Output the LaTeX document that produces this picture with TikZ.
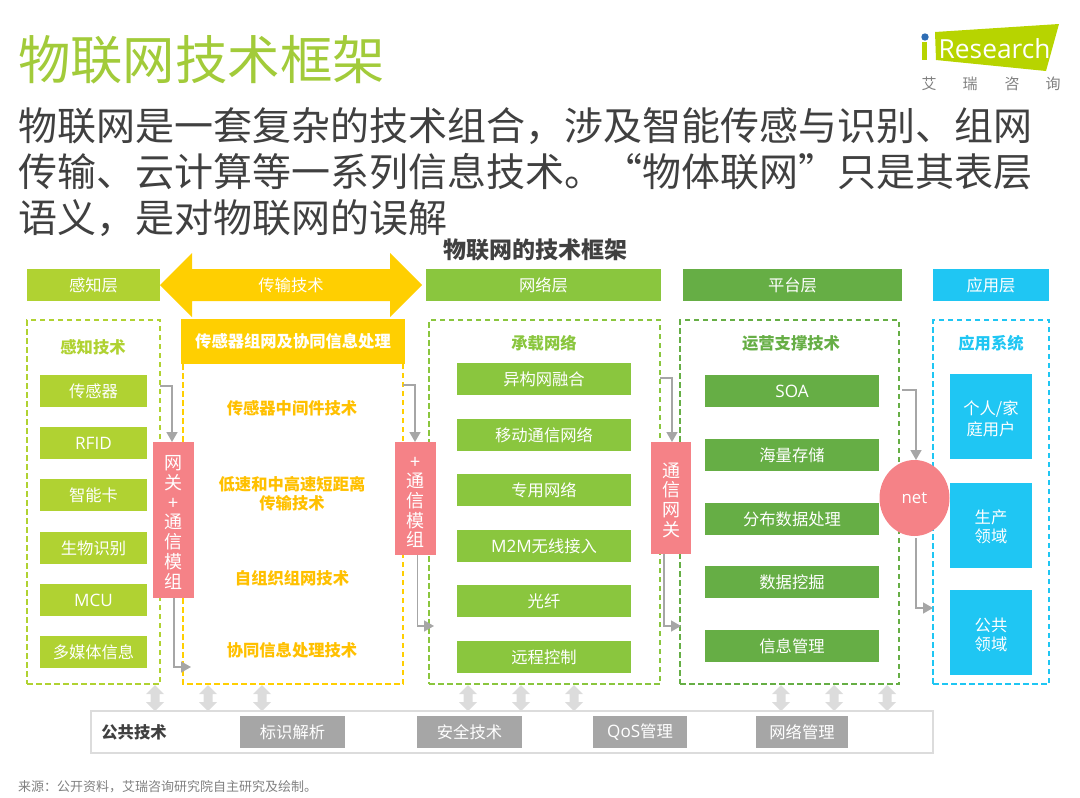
\documentclass[tikz,border=0pt]{standalone}
\usepackage{fontspec}
\setmainfont{Noto Sans CJK SC}
\newfontfamily\lat[Scale=1.05]{Open Sans}
\newfontfamily\latlogo{Open Sans}
\usetikzlibrary{arrows.meta,calc,shapes.geometric}
\definecolor{cA}{HTML}{B0D232}
\definecolor{cB}{HTML}{FFCF01}
\definecolor{cC}{HTML}{8AC63E}
\definecolor{cD}{HTML}{66AE45}
\definecolor{cE}{HTML}{1FC6F3}
\definecolor{cP}{HTML}{F58287}
\definecolor{cG}{HTML}{A6A6A6}
\definecolor{cL}{HTML}{DCDCDC}
\definecolor{cT}{HTML}{404040}
\definecolor{cY}{HTML}{FFC000}
\definecolor{cTitle}{HTML}{A2CB3A}
\definecolor{cLogo}{HTML}{B7D400}
\definecolor{cDot}{HTML}{2E6DB4}
\newcommand{\fs}[1]{\fontsize{#1}{#1}\selectfont}
% \bx{name}{x1}{y1}{x2}{y2}{style}{text}
\newcommand{\bx}[7]{%
  \pgfmathsetmacro{\bw}{#4-#2}\pgfmathsetmacro{\bh}{#5-#3}%
  \pgfmathsetmacro{\bcx}{(#2+#4)/2}\pgfmathsetmacro{\bcy}{(#3+#5)/2}%
  \node[#6,minimum width=\bw pt,minimum height=\bh pt] (#1) at (\bcx,\bcy) {#7};}
% vertical double block arrow
\newcommand{\dbl}[1]{%
  \fill[cL] (#1,685) -- (#1+9,694) -- (#1+4.5,694) -- (#1+4.5,702) -- (#1+9,702) -- (#1,711)
     -- (#1-9,702) -- (#1-4.5,702) -- (#1-4.5,694) -- (#1-9,694) -- cycle;}
\newcommand{\upr}[1]{\rule{0pt}{#1pt}}
\tikzset{
  x=1pt,y=-1pt,
  box/.style={inner sep=0pt,outer sep=0pt,text=white,font=\fs{16.3},align=center},
  sa/.style={box,fill=cA}, sc/.style={box,fill=cC}, sd/.style={box,fill=cD}, se/.style={box,fill=cE},
  sg/.style={box,fill=cG},
  sp/.style={box,fill=cP,font=\fontsize{18}{19.7}\selectfont},
  dbox/.style={inner sep=0pt,outer sep=0pt,draw=#1,line width=1.1pt,dash pattern=on 5.5pt off 3.5pt},
  head/.style={inner sep=0pt,text=#1,font=\bfseries\fs{16.3}},
  mid/.style={inner sep=0pt,text=cY,font=\bfseries\fs{16.3},align=center},
  conn/.style={draw=cG,line width=1.6pt,-{Triangle[width=11pt,length=10pt]}},
}
\begin{document}
\begin{tikzpicture}
\useasboundingbox (0,0) rectangle (1080,798);
% titles
\node[anchor=west,inner sep=0pt,text=cTitle,font=\fs{52.4}] (title) at (18,60) {物联网技术框架};
\node[anchor=west,inner sep=0pt,text=cT,font=\fs{39}] (s1) at (18,126) {物联网是一套复杂的技术组合，涉及智能传感与识别、组网};
\node[anchor=west,inner sep=0pt,text=cT,font=\fs{39}] (s2) at (18,172) {传输、云计算等一系列信息技术。“物体联网”只是其表层};
\node[anchor=west,inner sep=0pt,text=cT,font=\fs{39}] (s3) at (18,218) {语义，是对物联网的误解};
\node[inner sep=0pt,text=cT,font=\bfseries\fs{23}] (sub) at (535,250) {物联网的技术框架};
% logo
\fill[cLogo] (935,32) -- (1059,24) -- (1046,71) -- (936,60) -- cycle;
\fill[cLogo] (922,42) rectangle (927,60);
\fill[cDot] (925,37) circle (3.7);
\node[anchor=base west,inner sep=0pt,text=white,font=\latlogo\fs{26.3}] (logo) at (938.5,58) {Research};
\node[inner sep=0pt,text=gray,font=\fs{15}] (l1) at (929,84) {艾};
\node[inner sep=0pt,text=gray,font=\fs{15}] (l2) at (970,84) {瑞};
\node[inner sep=0pt,text=gray,font=\fs{15}] (l3) at (1012,84) {咨};
\node[inner sep=0pt,text=gray,font=\fs{15}] (l4) at (1053,84) {询};
% layer bars
\bx{h1}{27}{269}{160}{301}{sa}{感知层}
\fill[cB] (160,285) -- (192,253) -- (192,269) -- (390,269) -- (390,253) -- (422,285) -- (390,317) -- (390,301) -- (192,301) -- (192,317) -- cycle;
\node[inner sep=0pt,text=white,font=\fs{16.3}] (h2) at (291,285) {传输技术};
\bx{h3}{426}{269}{661}{301}{sc}{网络层}
\bx{h4}{683}{269}{902}{301}{sd}{平台层}
\bx{h5}{933}{269}{1049}{301}{se}{应用层}
% dashed groups
\bx{g1}{27}{320}{160}{684}{dbox=cA}{}
\draw[cB,line width=1.1pt,dash pattern=on 5.5pt off 3.5pt] (183,364) -- (183,684) -- (403,684) -- (403,364);
\bx{g3}{429}{320}{660}{684}{dbox=cC}{}
\bx{g4}{680}{320}{899}{684}{dbox=cD}{}
\bx{g5}{933}{320}{1049}{684}{dbox=cE}{}
% group 1
\node[head=cA] (t1) at (93,347) {感知技术};
\bx{a1}{40}{375}{147}{407}{sa}{传感器}
\bx{a2}{40}{427}{147}{459}{sa}{\lat RFID}
\bx{a3}{40}{479}{147}{511}{sa}{智能卡}
\bx{a4}{40}{532}{147}{564}{sa}{生物识别}
\bx{a5}{40}{584}{147}{616}{sa}{\lat MCU}
\bx{a6}{40}{636}{147}{668}{sa}{多媒体信息}
% group 2
\bx{b0}{181}{319}{405}{364}{box,fill=cB,font=\bfseries\fs{16.3}}{传感器组网及协同信息处理}
\node[mid] (b1) at (292,408.5) {传感器中间件技术};
\node[mid] (b2) at (292,494) {低速和中高速短距离\\[3pt]传输技术};
\node[mid] (b3) at (292,578) {自组织组网技术};
\node[mid] (b4) at (292,650) {协同信息处理技术};
% group 3
\node[head=cC] (t3) at (544,343) {承载网络};
\bx{c1}{457}{363}{631}{395}{sc}{异构网融合}
\bx{c2}{457}{419}{631}{451}{sc}{移动通信网络}
\bx{c3}{457}{474}{631}{506}{sc}{专用网络}
\bx{c4}{457}{530}{631}{562}{sc}{{\lat M2M}无线接入}
\bx{c5}{457}{585}{631}{617}{sc}{光纤}
\bx{c6}{457}{641}{631}{673}{sc}{远程控制}
% group 4
\node[head=cD] (t4) at (791,343) {运营支撑技术};
\bx{d1}{705}{375}{879}{407}{sd}{\lat SOA}
\bx{d2}{705}{439}{879}{471}{sd}{海量存储}
\bx{d3}{705}{503}{879}{535}{sd}{分布数据处理}
\bx{d4}{705}{566}{879}{598}{sd}{数据挖掘}
\bx{d5}{705}{630}{879}{662}{sd}{信息管理}
% group 5
\node[head=cE] (t5) at (991,343) {应用系统};
\bx{e1}{950}{374}{1032}{459}{se}{\upr{18}个人/家\\[3pt]庭用户}
\bx{e2}{950}{483}{1032}{568}{se}{\upr{16}生产\\[3pt]领域}
\bx{e3}{950}{590}{1032}{675}{se}{\upr{18}公共\\[3pt]领域}
% gateways
\bx{p1}{153}{442}{194}{598}{sp}{\upr{19}网\\关\\+\\通\\信\\模\\组}
\bx{p2}{395}{442}{436}{555}{sp}{\upr{19}+\\通\\信\\模\\组}
\bx{p3}{651}{442}{691}{554}{sp}{\upr{19}通\\信\\网\\关}
\node[ellipse,fill=cP,inner sep=0pt,outer sep=0pt,minimum width=70pt,minimum height=76pt,text=white,font=\lat\fs{16}] (net) at (914.5,498) {net};
% connectors
\coordinate (k1) at (160,386);
\coordinate (k2) at (403,385);
\coordinate (k3) at (660,378);
\coordinate (k4) at (902,390);
\draw[conn] (k1) -| ($(p1.north)+(-1.5,0)$);
\draw[conn] ($(p1.south)+(0.5,0)$) |- ($(g1.south east)+(31,-17)$);
\draw[conn] (k2) -| ($(p2.north)+(-0.5,0)$);
\draw[conn] ($(p2.south)+(2,0)$) |- ($(g3.south west)+(5,-58)$);
\draw[conn] (k3) -| ($(p3.north)+(1,0)$);
\draw[conn] ($(p3.south)+(-7,0)$) |- ($(g4.south west)+(1,-58)$);
\draw[conn] (k4) -| ($(net.north)+(1.5,0)$);
\draw[conn] ($(net.south)+(1.5,2)$) |- ($(g5.west)+(0,106)$);
% public tech
\bx{pub}{91}{711}{933}{753}{draw=cL,line width=1.2pt,inner sep=0pt,outer sep=0pt}{}
\node[inner sep=0pt,text=cT,font=\bfseries\fs{16.3}] (pt) at (134,732.5) {公共技术};
\bx{q1}{240}{716}{345}{748}{sg}{标识解析}
\bx{q2}{417}{716}{522}{748}{sg}{安全技术}
\bx{q3}{593}{716}{687}{748}{sg}{{\lat QoS}管理}
\bx{q4}{756}{716}{848}{748}{sg}{网络管理}
\dbl{155}\dbl{208}\dbl{262}\dbl{468}\dbl{521}\dbl{574}\dbl{781}\dbl{834}\dbl{887}
% source
\node[anchor=west,inner sep=0pt,text=gray,font=\fs{13}] (src) at (18,787) {来源：公开资料，艾瑞咨询研究院自主研究及绘制。};
\end{tikzpicture}
\end{document}
